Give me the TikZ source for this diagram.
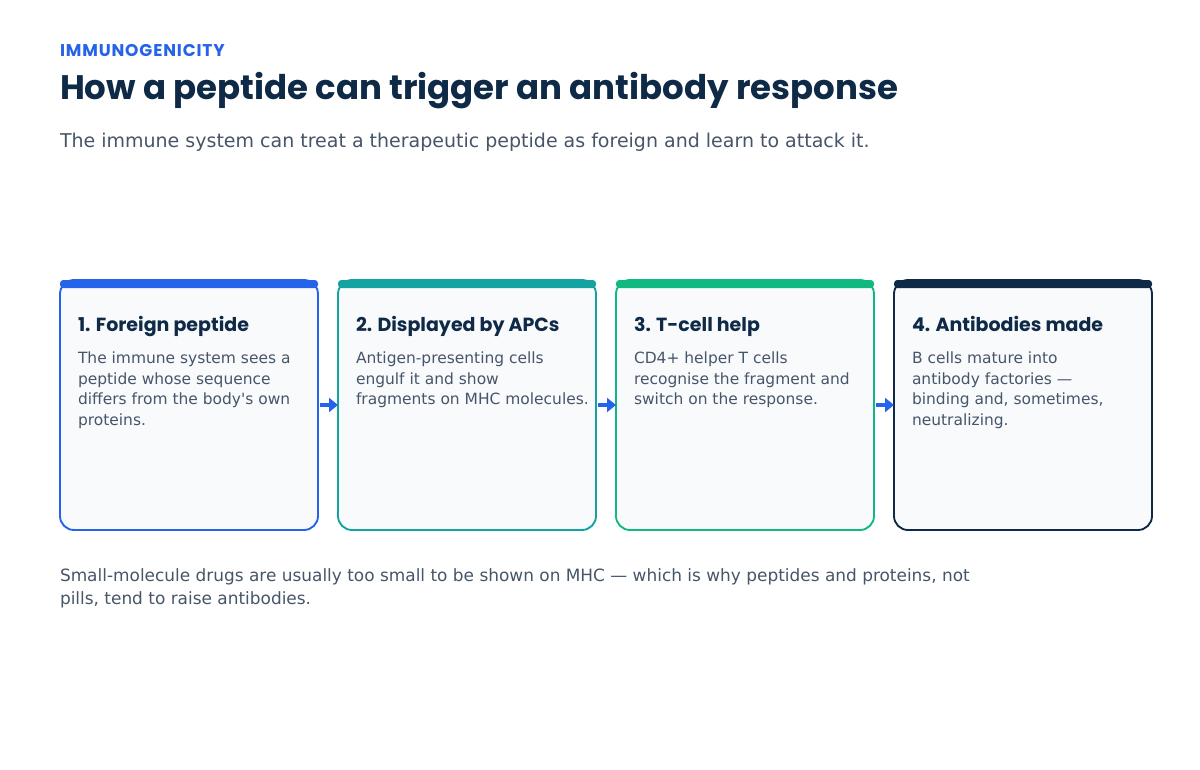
\documentclass[tikz,border=0pt]{standalone}
\usepackage{fontspec}
\setmainfont{DejaVu Sans}[Ligatures=TeXOff]
\newfontfamily\pop{Poppins}
\newfontfamily\popls{Poppins}[LetterSpace=5]
\usetikzlibrary{arrows.meta}
\definecolor{navy}{HTML}{0F2A47}
\definecolor{blueA}{HTML}{2563EB}
\definecolor{tealA}{HTML}{14A3A0}
\definecolor{greenA}{HTML}{10B981}
\definecolor{slateA}{HTML}{475569}
\definecolor{boxfill}{HTML}{F8FAFC}
\newcommand\stepbody[1]{\parbox[t]{185pt}{\raggedright #1}}
\tikzset{
  stepbox/.style={draw=#1, fill=boxfill, rounded corners=10.5pt, line width=1.4pt,
    minimum width=193.5pt, minimum height=187.5pt, inner sep=0pt, outer sep=0pt},
  topbar/.style={fill=#1, rounded corners=2.5pt, minimum width=193.5pt,
    minimum height=6pt, inner sep=0pt, outer sep=0pt},
  txt/.style={anchor=base west, inner sep=0pt, outer sep=0pt},
  kicker/.style={txt, text=blueA, font=\popls\bfseries\fontsize{12.75pt}{15pt}\selectfont},
  titletxt/.style={txt, text=navy, font=\pop\bfseries\fontsize{25.5pt}{30pt}\selectfont},
  subtxt/.style={txt, text=slateA, font=\fontsize{14.25pt}{17pt}\selectfont},
  headtxt/.style={txt, text=navy, font=\pop\bfseries\fontsize{14.25pt}{17pt}\selectfont},
  bodytxt/.style={txt, text=slateA, font=\fontsize{11.6pt}{15.75pt}\selectfont},
  foottxt/.style={txt, text=slateA, font=\fontsize{12.7pt}{17.25pt}\selectfont},
  flow/.style={draw=blueA, line width=3pt, -{Triangle[length=6.75pt,width=10.5pt]}}
}
\begin{document}
\begin{tikzpicture}[x=0.75pt,y=-0.75pt]
\useasboundingbox[fill=white] (0,0) rectangle (1200,770);

\node[kicker] (kick) at (60,57) {IMMUNOGENICITY};
\node[titletxt] (title) at (60,100) {How a peptide can trigger an antibody response};
\node[subtxt] (sub) at (60,148) {The immune system can treat a therapeutic peptide as foreign and learn to attack it.};

% boxes
\node[stepbox=blueA] (b1) at (189,405) {};
\node[stepbox=tealA] (b2) at (467,405) {};
\node[stepbox=greenA] (b3) at (745,405) {};
\node[stepbox=navy] (b4) at (1023,405) {};

\node[topbar=blueA] (t1) at (189,284) {};
\node[topbar=tealA] (t2) at (467,284) {};
\node[topbar=greenA] (t3) at (745,284) {};
\node[topbar=navy] (t4) at (1023,284) {};

% headings
\node[headtxt] (h1) at (78,331) {1. Foreign peptide};
\node[headtxt] (h2) at (356,331) {2. Displayed by APCs};
\node[headtxt] (h3) at (634,331) {3. T-cell help};
\node[headtxt] (h4) at (912,331) {4. Antibodies made};

% body
\node[bodytxt] (p1) at (78,363) {\stepbody{The immune system sees a\\peptide whose sequence\\differs from the body's own\\proteins.}};
\node[bodytxt] (p2) at (356,363) {\stepbody{Antigen-presenting cells\\engulf it and show\\fragments on MHC molecules.}};
\node[bodytxt] (p3) at (634,363) {\stepbody{CD4+ helper T cells\\recognise the fragment and\\switch on the response.}};
\node[bodytxt] (p4) at (912,363) {\stepbody{B cells mature into\\antibody factories —\\binding and, sometimes,\\neutralizing.}};

% arrows
\draw[flow] ([xshift=1.5pt]b1.east) -- (b2.west);
\draw[flow] ([xshift=1.5pt]b2.east) -- (b3.west);
\draw[flow] ([xshift=1.5pt]b3.east) -- (b4.west);

% footer
\node[foottxt] (foot) at (60,581) {\parbox[t]{720pt}{\raggedright Small-molecule drugs are usually too small to be shown on MHC — which is why peptides and proteins, not\\pills, tend to raise antibodies.}};
\end{tikzpicture}
\end{document}
